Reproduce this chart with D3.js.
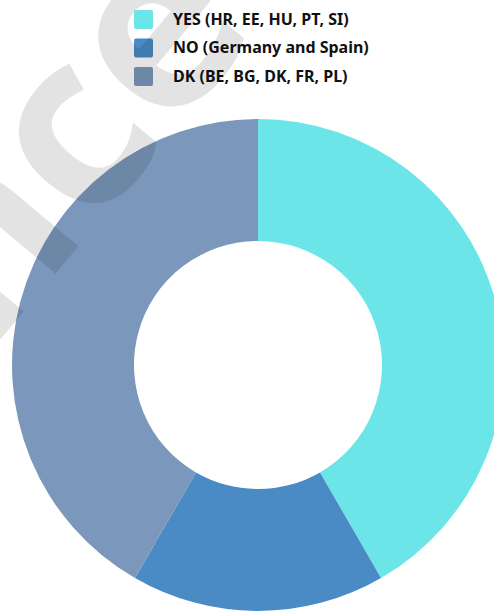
<!DOCTYPE html>
<html>
<head>
<meta charset="utf-8">
<script src="https://cdn.jsdelivr.net/npm/d3@7"></script>
<style>
  html, body { margin: 0; padding: 0; background: #fff; }
  svg { display: block; }
</style>
</head>
<body>
<svg></svg>
<script>
var categories = ["YES (HR, EE, HU, PT, SI)", "NO (Germany and Spain)", "DK (BE, BG, DK, FR, PL)"];
var values = [5, 2, 5];   // number of countries per answer
var colors = ["#6be5e8", "#4a8bc6", "#7b98bc"];

var svgWidth = 494;
var svgHeight = 611;

var svg = d3.select("svg")
    .attr("width", svgWidth)
    .attr("height", svgHeight);

var cx = 258, cy = 365;
var outerR = 246, innerR = 124;

var pie = d3.pie().sort(null).value(function(d) { return d; });
var arc = d3.arc().innerRadius(innerR).outerRadius(outerR);

var color = d3.scaleOrdinal().domain(categories).range(colors);

svg.append("g")
    .attr("transform", "translate(" + cx + "," + cy + ")")
    .selectAll("path")
    .data(pie(values))
    .enter()
    .append("path")
    .attr("d", arc)
    .attr("fill", function(d, i) { return color(categories[i]); });

// legend
var legendStep = 28.5;
var legend = svg.append("g")
    .selectAll("g")
    .data(categories)
    .enter()
    .append("g")
    .attr("transform", function(d, i) { return "translate(134," + (10 + i * legendStep) + ")"; });

legend.append("rect")
    .attr("width", 19)
    .attr("height", 19)
    .attr("rx", 2)
    .attr("fill", function(d) { return color(d); });

legend.append("text")
    .attr("x", 39)
    .attr("y", 14.5)
    .attr("font-family", "'Noto Sans', sans-serif")
    .attr("font-weight", 700)
    .attr("font-size", "16px")
    .attr("fill", "#111")
    .text(function(d) { return d; });

// watermark over everything
var fs = 240, angle = 50;
var wm = svg.append("text")
    .attr("font-family", "'Open Sans', sans-serif")
    .attr("font-weight", 700)
    .attr("font-size", fs + "px")
    .attr("fill", "#000")
    .attr("fill-opacity", 0.11)
    .attr("pointer-events", "none")
    .text("Science Business");

// put the centre of the second "c" where the reference has it
var ec = wm.node().getExtentOfChar(5);
var lx = ec.x + ec.width / 2, ly = -0.26 * fs;
var a = -angle * Math.PI / 180;
var px = lx * Math.cos(a) - ly * Math.sin(a);
var py = lx * Math.sin(a) + ly * Math.cos(a);
wm.attr("transform", "translate(" + (82 - px) + "," + (145 - py) + ") rotate(" + (-angle) + ")");
</script>
</body>
</html>
